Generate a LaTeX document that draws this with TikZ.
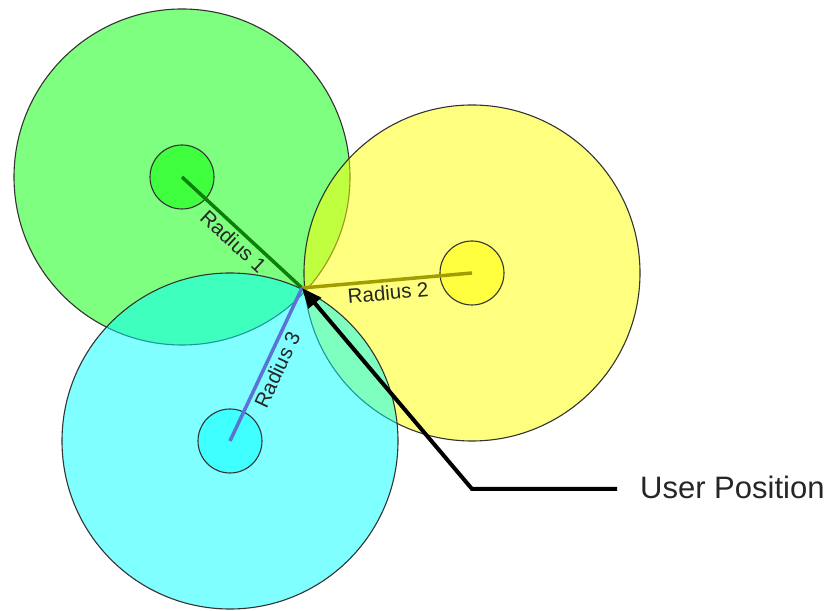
\documentclass[tikz,border=0pt]{standalone}
\usepackage{fontspec}
\setmainfont{Liberation Sans}
\usetikzlibrary{arrows.meta}
\definecolor{zonegreen}{RGB}{0,255,0}
\definecolor{zoneyellow}{RGB}{255,255,0}
\definecolor{zonecyan}{RGB}{0,255,255}
\definecolor{spokeone}{HTML}{0A800A}
\definecolor{spoketwo}{HTML}{A39E00}
\definecolor{spokethree}{HTML}{5C73D6}

\begin{document}
\begin{tikzpicture}[x=1pt, y=1pt,
  zone/.style={draw=black!80, line width=1.1pt, fill opacity=0.5},
  spoke/.style={line width=3.5pt},
  rlabel/.style={sloped, below, inner sep=3pt, text=black!85, font=\fontsize{20.5}{24}\selectfont},
  pointer/.style={line width=4pt, -{Triangle[length=20pt,width=16pt]}}]
\useasboundingbox (0,0) rectangle (831,611);
\coordinate (gsite) at (182,434);
\coordinate (ysite) at (472,338);
\coordinate (csite) at (230,170);
\coordinate (user) at (302,323);
\coordinate (bend) at (472,122);
\draw[zone, fill=zonegreen] (gsite) circle (168pt);
\draw[zone, fill=zoneyellow] (ysite) circle (168pt);
\draw[zone, fill=zonecyan] (csite) circle (168pt);
\draw[zone, fill=zonegreen] (gsite) circle (32pt);
\draw[zone, fill=zoneyellow] (ysite) circle (32pt);
\draw[zone, fill=zonecyan] (csite) circle (32pt);
\draw[spoke, spokeone] (gsite) -- node[rlabel] {Radius 1} (user);
\draw[spoke, spoketwo] (user) -- node[rlabel] {Radius 2} (ysite);
\draw[spoke, spokethree] (csite) -- node[rlabel] {Radius 3} (user);
\node[anchor=west, inner sep=0pt, text=black!85, font=\fontsize{31}{37}\selectfont] (userlbl) at (640,124) {User Position};
\draw[pointer] (userlbl.west) ++(-23pt,-2pt) -- (bend) -- (user);
\end{tikzpicture}
\end{document}
